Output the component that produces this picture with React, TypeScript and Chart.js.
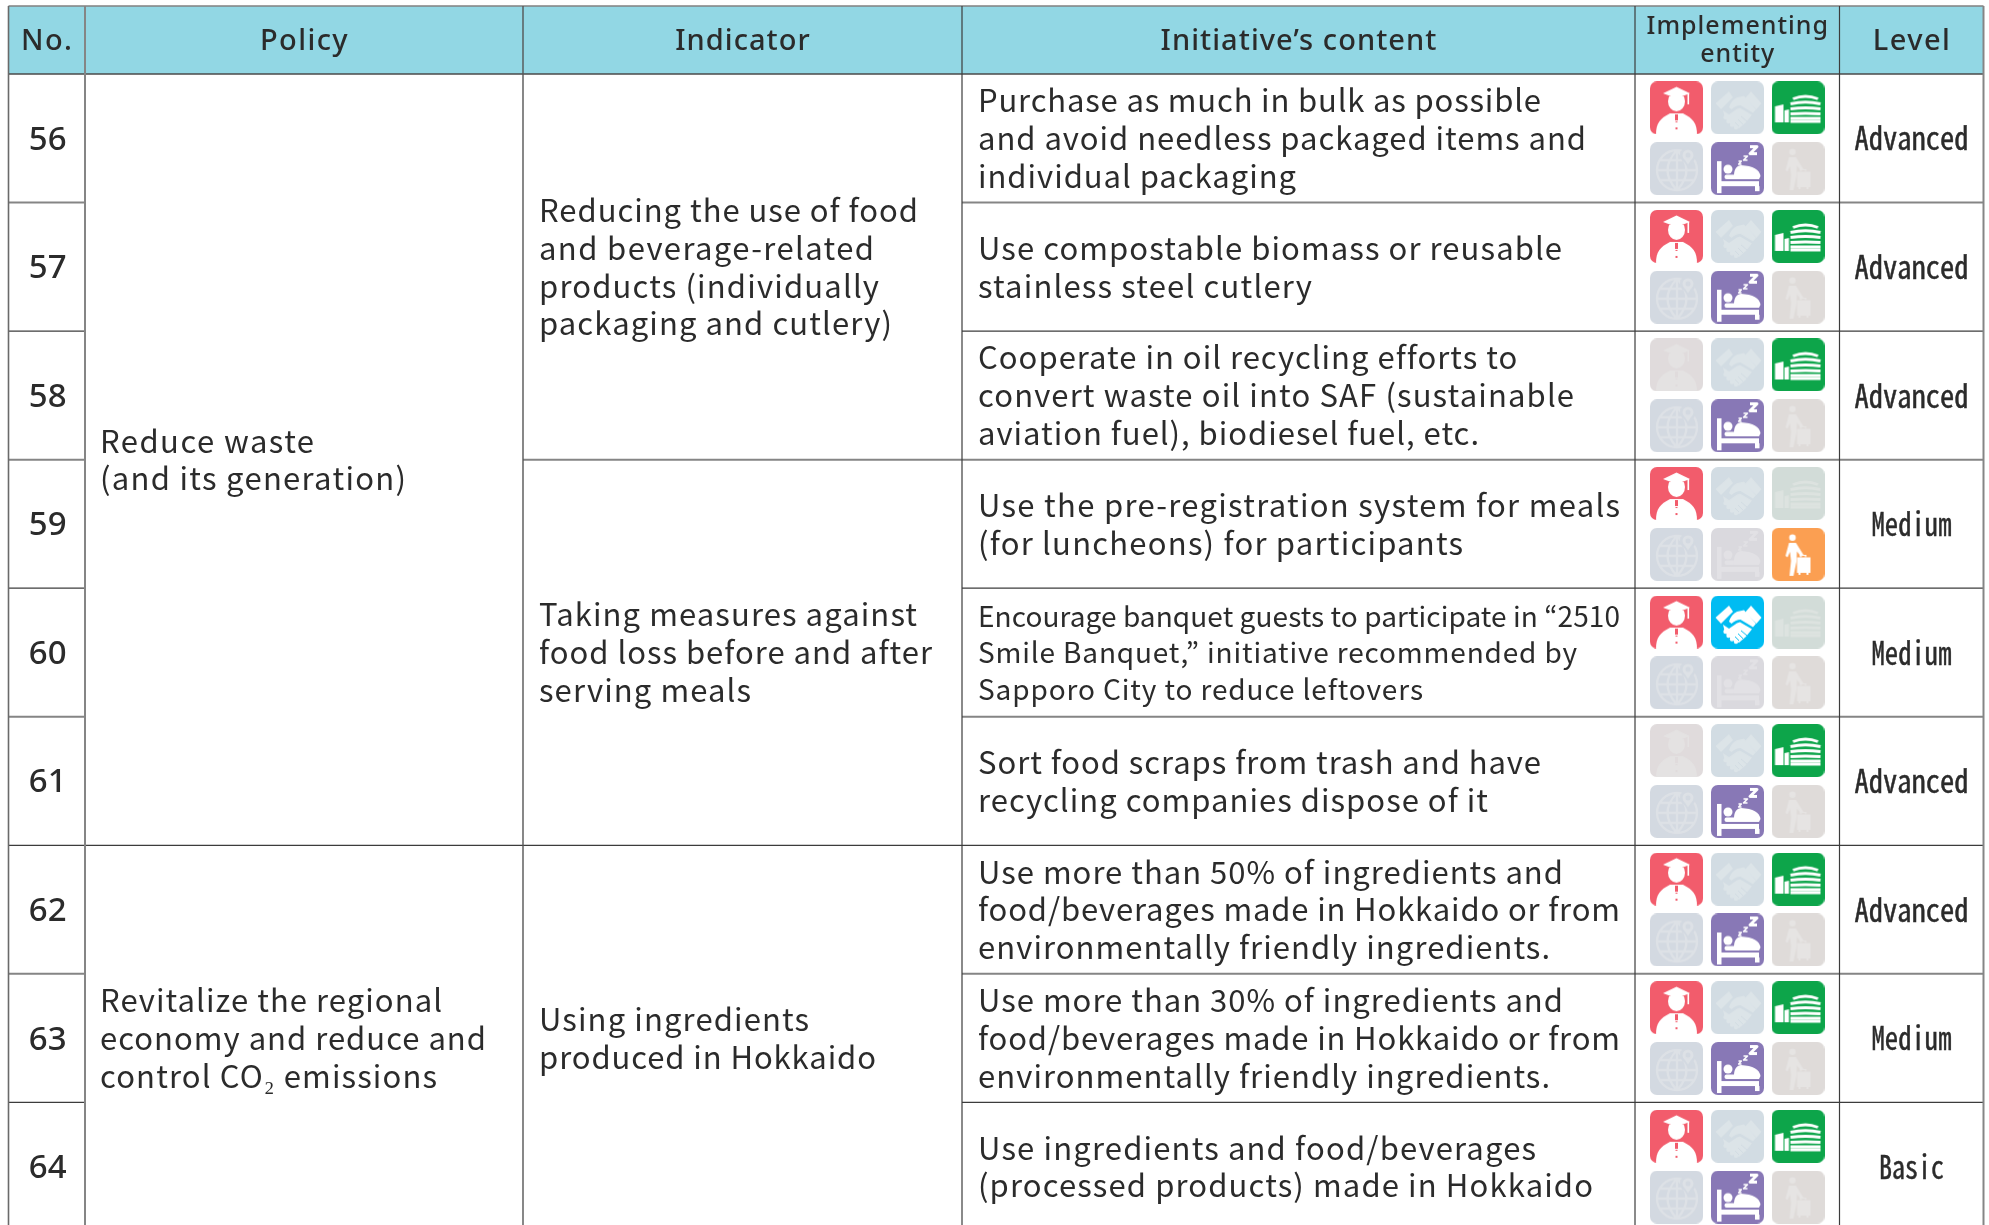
import React, { useEffect, useRef } from "react";
import { Chart, registerables } from "chart.js";

Chart.register(...registerables);

// ---------- content ----------
const headers = [["No."], ["Policy"], ["Indicator"], ["Initiative’s content"], ["Implementing", "entity"], ["Level"]];
const rowNumbers = ["56", "57", "58", "59", "60", "61", "62", "63", "64"];
const policies = [
  { from: 0, to: 6, lines: ["Reduce waste", "(and its generation)"] },
  { from: 6, to: 9, lines: ["Revitalize the regional", "economy and reduce and", "control CO₂ emissions"] },
];
const indicators = [
  { from: 0, to: 3, lines: ["Reducing the use of food", "and beverage-related", "products (individually", "packaging and cutlery)"] },
  { from: 3, to: 6, lines: ["Taking measures against", "food loss before and after", "serving meals"] },
  { from: 6, to: 9, lines: ["Using ingredients", "produced in Hokkaido"] },
];
const initiatives = [
  ["Purchase as much in bulk as possible", "and avoid needless packaged items and", "individual packaging"],
  ["Use compostable biomass or reusable", "stainless steel cutlery"],
  ["Cooperate in oil recycling efforts to", "convert waste oil into SAF (sustainable", "aviation fuel), biodiesel fuel, etc."],
  ["Use the pre-registration system for meals", "(for luncheons) for participants"],
  ["Encourage banquet guests to participate in “2510", "Smile Banquet,” initiative recommended by", "Sapporo City to reduce leftovers"],
  ["Sort food scraps from trash and have", "recycling companies dispose of it"],
  ["Use more than 50% of ingredients and", "food/beverages made in Hokkaido or from", "environmentally friendly ingredients."],
  ["Use more than 30% of ingredients and", "food/beverages made in Hokkaido or from", "environmentally friendly ingredients."],
  ["Use ingredients and food/beverages", "(processed products) made in Hokkaido"],
];
const levels = ["Advanced", "Advanced", "Advanced", "Medium", "Medium", "Advanced", "Advanced", "Medium", "Basic"];

// which entity takes part in each row
const scholars = [1, 1, 0, 1, 1, 0, 1, 1, 1];
const partners = [0, 0, 0, 0, 1, 0, 0, 0, 0];
const venues = [1, 1, 1, 0, 0, 1, 1, 1, 1];
const cities = [0, 0, 0, 0, 0, 0, 0, 0, 0];
const hotels = [1, 1, 1, 0, 0, 1, 1, 1, 1];
const visitors = [0, 0, 0, 1, 0, 0, 0, 0, 0];

// ---------- layout ----------
const W = 1989;
const H = 1225;
const TOP = 6;
const HEAD_BOTTOM = 74;
const ROW_H = 128.55;
const COLS = [8.5, 85, 523, 962, 1635, 1839.5, 1983.5];
const ICON_X = [1676.5, 1737.5, 1798];
const ICON_DY = 30.4 / ROW_H;
const ICON = 53;
const yMin = -HEAD_BOTTOM / ROW_H;
const yMax = (H - HEAD_BOTTOM) / ROW_H;

// rendered width of each text line, used to fit its tracking
const initiativeWidths = [
  [563, 608, 318],
  [584, 334],
  [539, 596, 501],
  [642, 485],
  [642, 599, 445],
  [563, 510],
  [585, 642, 572],
  [585, 642, 572],
  [558, 615],
];
const policyWidths = [
  [214, 306],
  [342, 386, 337],
];
const indicatorWidths = [
  [379, 335, 340, 353],
  [378, 393, 212],
  [270, 337],
];
const levelWidths: Record<string, number> = { Advanced: 114, Medium: 80, Basic: 65 };

const INK = "#2b2b2b";
const HEADER_BG = "#92d7e4";
const BODY_FONT = '"Noto Sans CJK JP"';
const SANS = '"Noto Sans"';

// ---------- icons ----------
type Glyph = (c: CanvasRenderingContext2D, bg: string) => void;

const poly = (c: CanvasRenderingContext2D, pts: number[][]) => {
  c.beginPath();
  pts.forEach(([x, y], i) => (i ? c.lineTo(x, y) : c.moveTo(x, y)));
  c.closePath();
  c.fill();
};

const scholarGlyph: Glyph = (c, bg) => {
  c.beginPath();
  c.ellipse(26.5, 20, 8.5, 10, 0, 0, Math.PI * 2);
  c.fill();
  c.beginPath();
  c.moveTo(6, 53);
  c.bezierCurveTo(6, 42, 10, 37, 20, 32);
  c.lineTo(33, 32);
  c.bezierCurveTo(43, 37, 47, 42, 47, 53);
  c.closePath();
  c.fill();
  const ink = c.fillStyle;
  c.fillStyle = bg;
  c.fillRect(12, 13, 29, 2);
  c.fillRect(25, 33, 3, 6);
  c.fillRect(25.5, 40, 2, 1);
  c.fillRect(25.5, 46, 2, 2);
  c.fillStyle = ink;
  poly(c, [[13, 12], [26.5, 5.5], [40, 12], [26.5, 17]]);
  c.fillRect(37.5, 12, 1.6, 11);
};

const handshakeGlyph: Glyph = (c, bg) => {
  poly(c, [[4.5, 22], [18, 10], [22, 16], [10, 28]]);
  poly(c, [[34, 17], [40, 10], [50.5, 22], [45.5, 28]]);
  // upper hand
  c.beginPath();
  c.moveTo(33, 14.5);
  c.lineTo(26, 16);
  c.quadraticCurveTo(20, 19, 18, 26);
  c.lineTo(20.5, 28);
  c.quadraticCurveTo(25, 24, 29.5, 24);
  c.lineTo(42, 31.5);
  c.lineTo(45, 28);
  c.closePath();
  c.fill();
  // lower hand
  poly(c, [[12, 29], [18, 33], [26, 27.5], [29, 26.5], [41, 33.5], [35, 41], [28, 47], [22, 45], [14, 37]]);
  [[14.5, 36], [17.5, 40], [21, 43.5], [25, 46]].forEach(([x, y]) => {
    c.beginPath();
    c.arc(x, y, 2.2, 0, Math.PI * 2);
    c.fill();
  });
  c.strokeStyle = bg;
  c.lineWidth = 1;
  c.beginPath();
  c.moveTo(30, 35);
  c.lineTo(36, 40);
  c.moveTo(27, 38);
  c.lineTo(32, 43);
  c.moveTo(24, 41);
  c.lineTo(28, 45);
  c.stroke();
};

const buildingGlyph: Glyph = (c) => {
  poly(c, [[3.5, 25], [12, 23], [12, 41], [3.5, 41]]);
  poly(c, [[13, 29], [17.5, 28], [17.5, 41], [13, 41]]);
  c.lineWidth = 2.9;
  const bars = [
    [21.5, 46.5, 17.5, 2.5],
    [19, 49, 22.5, 1.8],
    [19, 49, 27.5, 1],
    [19, 49, 32.5, 0.5],
    [19, 49, 37, 0],
    [19, 49, 40, 0],
  ];
  for (const [a, b, y, bow] of bars) {
    c.beginPath();
    c.moveTo(a, y);
    c.quadraticCurveTo((a + b) / 2, y - bow * 2, b, y);
    c.stroke();
  }
};

const globeGlyph: Glyph = (c, bg) => {
  c.lineWidth = 2.4;
  c.beginPath();
  c.arc(27, 28, 20, 0, Math.PI * 2);
  c.moveTo(27, 8);
  c.lineTo(27, 48);
  c.moveTo(7, 28);
  c.lineTo(47, 28);
  c.moveTo(10, 18);
  c.lineTo(44, 18);
  c.moveTo(10, 38);
  c.lineTo(44, 38);
  c.moveTo(27, 8);
  c.quadraticCurveTo(8, 28, 27, 48);
  c.moveTo(27, 8);
  c.quadraticCurveTo(46, 28, 27, 48);
  c.stroke();
  const ink = c.fillStyle;
  c.fillStyle = bg;
  c.beginPath();
  c.arc(38, 13, 8, 0, Math.PI * 2);
  c.fill();
  poly(c, [[31, 14], [38, 26], [45, 14]]);
  c.fillStyle = ink;
  c.beginPath();
  c.arc(38, 13, 5.5, 0, Math.PI * 2);
  c.fill();
  poly(c, [[33, 15], [38, 22.5], [43, 15]]);
  c.fillStyle = bg;
  c.beginPath();
  c.arc(38, 13, 2.5, 0, Math.PI * 2);
  c.fill();
};

const bedGlyph: Glyph = (c) => {
  c.fillRect(6, 19, 4.5, 32);
  c.fillRect(10, 39, 38, 5);
  c.fillRect(44, 44, 4.5, 5);
  c.beginPath();
  c.arc(17, 27, 4.5, 0, Math.PI * 2);
  c.fill();
  c.beginPath();
  c.roundRect(13.5, 32.5, 12, 4.5, 2);
  c.fill();
  c.beginPath();
  c.moveTo(23, 37);
  c.quadraticCurveTo(22, 24, 30, 23);
  c.quadraticCurveTo(48, 24, 49.5, 34);
  c.lineTo(48, 37);
  c.closePath();
  c.fill();
  const zed = (x: number, y: number, s: number, w: number) => {
    c.lineWidth = w;
    c.beginPath();
    c.moveTo(x, y);
    c.lineTo(x + s, y);
    c.lineTo(x, y + s);
    c.lineTo(x + s, y + s);
    c.stroke();
  };
  zed(39, 4.5, 7, 3);
  zed(32.5, 14, 4, 1.6);
  zed(27.5, 19, 3, 1.3);
};

const visitorGlyph: Glyph = (c) => {
  c.beginPath();
  c.arc(21, 9.7, 3.3, 0, Math.PI * 2);
  c.fill();
  poly(c, [[17.5, 15], [24.5, 15], [32, 27], [29.5, 29], [25.5, 23.5], [25, 34], [22, 48], [18, 48], [19.5, 33], [18.5, 24], [16, 29.5], [14, 28]]);
  c.fillRect(25.5, 29.5, 13.5, 15.5);
  c.fillRect(28.5, 27.5, 1.2, 2);
  c.fillRect(33.5, 27.5, 1.2, 2);
  c.fillRect(28, 27, 7, 1);
  c.fillRect(27, 45, 2, 2);
  c.fillRect(35, 45, 2, 2);
};

function makeIcon(bg: string, ink: string, glyph: Glyph) {
  const cv = document.createElement("canvas");
  cv.width = ICON;
  cv.height = ICON;
  const c = cv.getContext("2d")!;
  c.fillStyle = bg;
  c.beginPath();
  c.roundRect(0, 0, ICON, ICON, 7);
  c.fill();
  c.save();
  c.beginPath();
  c.roundRect(0, 0, ICON, ICON, 7);
  c.clip();
  c.fillStyle = ink;
  c.strokeStyle = ink;
  c.lineJoin = "round";
  glyph(c, bg);
  c.restore();
  return cv;
}

const entities = [
  { name: "Scholars", on: scholars, col: 0, row: 0, active: "#f25c6c", idle: "#e0dbdc", idleInk: "#e4e2e2", glyph: scholarGlyph },
  { name: "Partners", on: partners, col: 1, row: 0, active: "#00bcf2", idle: "#d2dce3", idleInk: "#dce4e8", glyph: handshakeGlyph },
  { name: "Venues", on: venues, col: 2, row: 0, active: "#0da54a", idle: "#d2dcd8", idleInk: "#dde3e0", glyph: buildingGlyph },
  { name: "Cities", on: cities, col: 0, row: 1, active: "#3f7fbf", idle: "#d3d9e1", idleInk: "#dde1e6", glyph: globeGlyph },
  { name: "Hotels", on: hotels, col: 1, row: 1, active: "#8878b6", idle: "#dad9de", idleInk: "#e2e1e5", glyph: bedGlyph },
  { name: "Visitors", on: visitors, col: 2, row: 1, active: "#fb9f52", idle: "#dfdbd9", idleInk: "#e6e4e3", glyph: visitorGlyph },
];

// ---------- table plugin ----------
function spaced(c: CanvasRenderingContext2D, font: string, ls: number, text: string, x: number, y: number, align: CanvasTextAlign = "left") {
  c.font = font;
  (c as any).letterSpacing = `${ls}px`;
  c.textAlign = align;
  c.textBaseline = "middle";
  c.fillStyle = INK;
  c.fillText(text, x, y);
  (c as any).letterSpacing = "0px";
}

function squeezed(c: CanvasRenderingContext2D, font: string, text: string, width: number, x: number, y: number) {
  c.font = font;
  c.textAlign = "center";
  c.textBaseline = "middle";
  c.fillStyle = INK;
  c.strokeStyle = INK;
  c.lineWidth = 0.5;
  const sx = width / c.measureText(text).width;
  c.save();
  c.translate(x, y);
  c.scale(sx, 1);
  c.fillText(text, 0, 0);
  c.strokeText(text, 0, 0);
  c.restore();
}

function block(c: CanvasRenderingContext2D, lines: string[], widths: number[], x: number, cy: number, pitch: number, font: string) {
  lines.forEach((t, i) => {
    c.font = font;
    (c as any).letterSpacing = "0px";
    const natural = c.measureText(t).width;
    const ls = (widths[i] - natural) / (t.length - 1);
    spaced(c, font, ls, t, x, cy + (i - (lines.length - 1) / 2) * pitch);
  });
}

const tablePlugin = {
  id: "table",
  beforeDatasetsDraw(chart: any) {
    const c: CanvasRenderingContext2D = chart.ctx;
    const y = chart.scales.y;
    const x = chart.scales.x;
    const xp = (v: number) => x.getPixelForValue(v);
    const yp = (v: number) => y.getPixelForValue(v);
    const cols = COLS.map(xp);
    c.save();
    c.fillStyle = "#ffffff";
    c.fillRect(0, 0, W, H);
    c.fillStyle = HEADER_BG;
    c.fillRect(cols[0], TOP, cols[6] - cols[0], yp(0) - TOP);

    const hline = (a: number, b: number, py: number, col: string, lw: number) => {
      c.strokeStyle = col;
      c.lineWidth = lw;
      c.beginPath();
      c.moveTo(a, py);
      c.lineTo(b, py);
      c.stroke();
    };
    const rule = (v: number) => (v % 2 === 1 ? ["#858585", 2] : ["#3c3c3c", 1.2]) as [string, number];
    hline(cols[0], cols[6], TOP, "#808080", 1.6);
    hline(cols[0], cols[6], yp(0), "#4a4a4a", 1.4);
    rowNumbers.forEach((_, i) => {
      const py = yp(i + 1);
      hline(cols[0], cols[1], py, ...rule(i + 1));
      hline(cols[3], cols[6], py, ...rule(i + 1));
    });
    policies.forEach((p) => hline(cols[1], cols[2], yp(p.to), ...rule(p.to)));
    indicators.forEach((p) => hline(cols[2], cols[3], yp(p.to), ...rule(p.to)));
    const vStyles: [string, number][] = [["#6a6a6a", 1.6], ["#858585", 2], ["#555555", 1.4], ["#3c3c3c", 1.2], ["#3c3c3c", 1.2], ["#3c3c3c", 1.2], ["#858585", 2]];
    cols.forEach((cx, i) => {
      c.strokeStyle = vStyles[i][0];
      c.lineWidth = vStyles[i][1];
      c.beginPath();
      c.moveTo(cx, TOP);
      c.lineTo(cx, H);
      c.stroke();
    });

    // headers
    const hy = (TOP + yp(0)) / 2 + 2;
    const hFont = `500 29px ${SANS}`;
    headers.forEach((lines, i) => {
      const cx = (cols[i] + cols[i + 1]) / 2 + 0.5;
      if (lines.length === 1) spaced(c, hFont, i === 1 || i === 0 || i === 5 ? 1.4 : 1.05, lines[0], cx, hy, "center");
      else lines.forEach((t, k) => spaced(c, `500 25px ${SANS}`, 1, t, cx, hy + (k - 0.5) * 28 - 1, "center"));
    });

    // cells
    const bodyFont = `400 31px ${BODY_FONT}`;
    rowNumbers.forEach((n, i) => {
      const cy = yp(i + 0.5);
      spaced(c, `500 33px ${SANS}`, 0, n, (cols[0] + cols[1]) / 2 + 1, cy + 2, "center");
      const small = initiatives[i][0].length > 45;
      block(c, initiatives[i], initiativeWidths[i], cols[3] + 16, cy, small ? 36.6 : 37.8, small ? `400 28px ${BODY_FONT}` : bodyFont);
      squeezed(c, `500 32px "Noto Sans Mono CJK JP", "Liberation Mono"`, levels[i], levelWidths[levels[i]], (cols[5] + cols[6]) / 2, cy);
    });
    policies.forEach((p, k) => block(c, p.lines, policyWidths[k], cols[1] + 15, yp((p.from + p.to) / 2), 37.8, bodyFont));
    indicators.forEach((p, k) => block(c, p.lines, indicatorWidths[k], cols[2] + 16, yp((p.from + p.to) / 2), 37.8, bodyFont));
    c.restore();
  },
};

export default function App() {
  const ref = useRef<HTMLCanvasElement>(null);
  useEffect(() => {
    const datasets = entities.map((e) => {
      const activeIcon = makeIcon(e.active, "#ffffff", e.glyph);
      const idleIcon = makeIcon(e.idle, e.idleInk, e.glyph);
      return {
        label: e.name,
        data: e.on.map((_, i) => ({
          x: ICON_X[e.col],
          y: i + 0.5 + (e.row === 0 ? -ICON_DY : ICON_DY),
        })),
        pointStyle: e.on.map((v) => (v ? activeIcon : idleIcon)),
        pointRadius: ICON / 2,
        showLine: false,
        clip: false,
      };
    });
    const chart = new Chart(ref.current!, {
      type: "scatter",
      data: { datasets: datasets as any },
      options: {
        responsive: false,
        animation: false,
        layout: { padding: 0, autoPadding: false },
        plugins: { legend: { display: false }, tooltip: { enabled: false }, title: { display: false } },
        scales: {
          x: { type: "linear", min: 0, max: W, display: false },
          y: { type: "linear", min: yMin, max: yMax, reverse: true, display: false },
        },
      },
      plugins: [tablePlugin as any],
    });
    return () => chart.destroy();
  }, []);
  return (
    <canvas
      ref={ref}
      width={W}
      height={H}
      style={{ position: "absolute", left: 0, top: 0, width: W, height: H, display: "block" }}
    />
  );
}
